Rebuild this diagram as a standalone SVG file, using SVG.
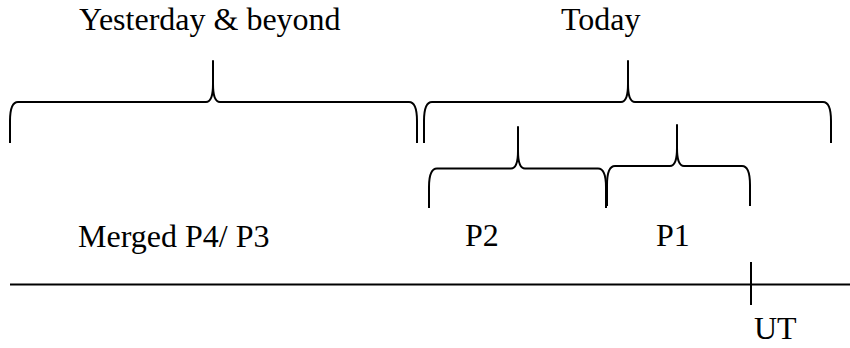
<svg xmlns="http://www.w3.org/2000/svg" width="850" height="348" viewBox="0 0 850 348">
  <style>
    .brace { fill: none; stroke: #000; stroke-width: 2; stroke-linejoin: round; }
    .axis { fill: none; stroke: #000; stroke-width: 2; }
    text { font-family: "Liberation Serif", "Times New Roman", serif; font-size: 32px; fill: #000; }
  </style>
  <rect width="850" height="348" fill="#fff"/>

  <!-- curly braces grouping the periods -->
  <g id="connectors">
    <path id="brace-past" class="brace" d="M10,143 L10,121 Q10,102 18,102 L206,102 Q213,102 213,84 L213,61 L213,84 Q213,102 220,102 L409,102 Q417,102 417,121 L417,143"/>
    <path id="brace-today" class="brace" d="M424,143 L424,121 Q424,102 432,102 L621,102 Q628,102 628,84 L628,61 L628,84 Q628,102 635,102 L823,102 Q831,102 831,121 L831,143"/>
    <path id="brace-p2" class="brace" d="M429,208 L429,187 Q429,168.5 437,168.5 L511,168.5 Q518,168.5 518,151 L518,127 L518,151 Q518,168.5 525,168.5 L598,168.5 Q606,168.5 606,187 L606,208"/>
    <path id="brace-p1" class="brace" d="M607,206 L607,185 Q607,166 615,166 L670,166 Q677,166 677,148 L677,125 L677,148 Q677,166 684,166 L742,166 Q750,166 750,185 L750,206"/>
  </g>

  <!-- time axis with the UT marker -->
  <g id="axis">
    <line class="axis" x1="10" y1="284.5" x2="850" y2="284.5"/>
    <line class="axis" x1="751" y1="262" x2="751" y2="305"/>
  </g>

  <g id="yesterday"><text x="79" y="30">Yesterday &amp; beyond</text></g>
  <g id="today"><text x="561" y="30">Today</text></g>
  <g id="merged"><text x="78" y="247">Merged P4/ P3</text></g>
  <g id="p2"><text x="465" y="246">P2</text></g>
  <g id="p1"><text x="656" y="246">P1</text></g>
  <g id="ut"><text x="754" y="339">UT</text></g>
</svg>
